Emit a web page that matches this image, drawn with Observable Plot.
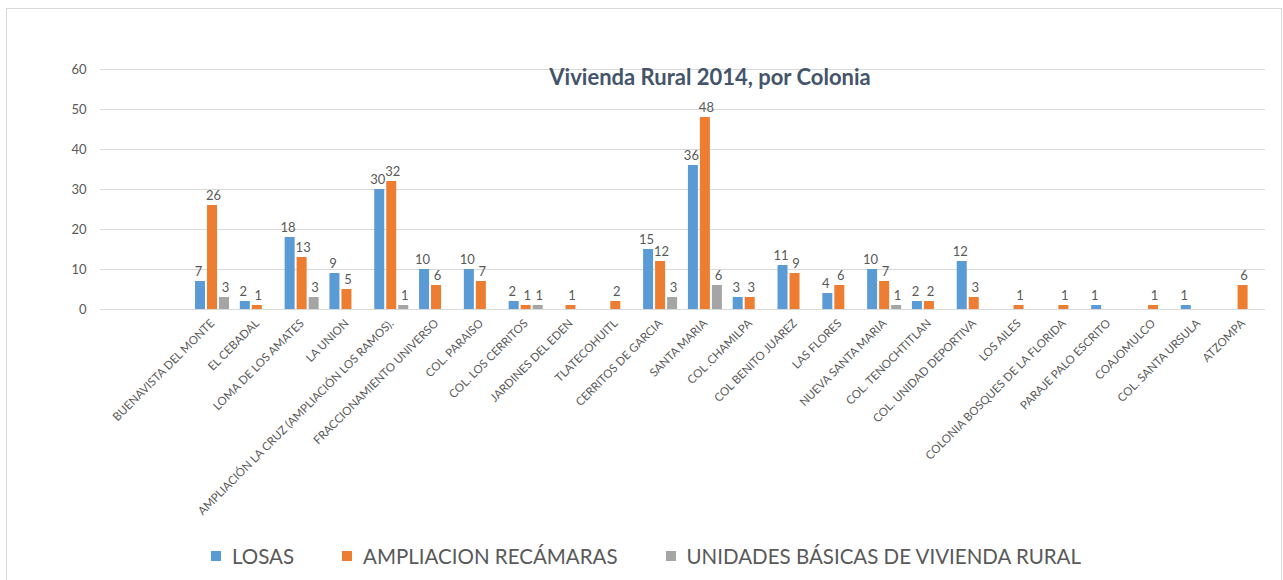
<!DOCTYPE html>
<html><head><meta charset="utf-8">
<script src="https://cdn.jsdelivr.net/npm/d3@7"></script>
<script src="https://cdn.jsdelivr.net/npm/@observablehq/plot@0.6"></script>
<style>
html,body{margin:0;padding:0;background:#fff;overflow:hidden;}
#wrap{position:relative;width:1283px;height:580px;font-family:Lato,"Open Sans",sans-serif;}
#frame{position:absolute;left:6px;top:8px;width:1276px;height:580px;border:1px solid #d9d9d9;box-sizing:border-box;}
#chart{position:absolute;left:0;top:0;}
#title{position:absolute;left:410px;width:600px;top:63px;text-align:center;font-weight:bold;font-size:22px;color:#44546A;}
#legend{position:absolute;left:211px;top:543px;display:flex;gap:48px;font-size:20.5px;color:#595959;line-height:26px;}
#legend .item{display:flex;align-items:center;}
#legend .sw{width:10px;height:10px;margin-right:11px;}
</style></head>
<body><div id="wrap"><div id="frame"></div><div id="chart"></div><div id="title"></div><div id="legend"></div></div>
<script>
const titleText = "Vivienda Rural 2014, por Colonia";
const categories = ["BUENAVISTA DEL MONTE","EL CEBADAL","LOMA DE LOS AMATES","LA UNION","AMPLIACIÓN LA CRUZ (AMPLIACIÓN LOS RAMOS).","FRACCIONAMIENTO UNIVERSO","COL. PARAISO","COL. LOS CERRITOS","JARDINES DEL EDEN","TLATECOHUITL","CERRITOS DE GARCIA","SANTA MARIA","COL .CHAMILPA","COL BENITO JUAREZ","LAS FLORES","NUEVA SANTA MARIA","COL. TENOCHTITLAN","COL. UNIDAD DEPORTIVA","LOS AILES","COLONIA BOSQUES DE LA FLORIDA","PARAJE PALO ESCRITO","COAJOMULCO","COL. SANTA URSULA","ATZOMPA"];
const blankCategories = ["_blank1","_blank2"];
const series = ["LOSAS","AMPLIACION RECÁMARAS","UNIDADES BÁSICAS DE VIVIENDA RURAL"];
const colors = ["#5B9BD5","#ED7D31","#A5A5A5"];
const losas =      [7,2,18,9,30,10,10,2,0,0,15,36,3,11,4,10,2,12,0,0,1,0,1,0];
const ampliacion = [26,1,13,5,32,6,7,1,1,2,12,48,3,9,6,7,2,3,1,1,0,1,0,6];
const unidades =   [3,0,3,0,1,0,0,1,0,0,3,6,0,0,0,1,0,0,0,0,0,0,0,0];
const yTicks = [0,10,20,30,40,50,60];

const valuesBySeries = [losas, ampliacion, unidades];
const rows = [];
categories.forEach((c,i)=>series.forEach((s,j)=>rows.push({cat:c, series:s, value:valuesBySeries[j][i]})));
const fxDomain = [...blankCategories, ...categories];
const shown = rows.filter(d=>d.value>0);
const gridRows = fxDomain.flatMap(c=>yTicks.map(t=>({cat:c, tick:t})));
const labelDx = [-2, 1, 1];

const chart = Plot.plot({
  width:1283, height:530,
  marginLeft:100, marginRight:18, marginTop:69, marginBottom:221,
  style:{fontFamily:"Lato, 'Open Sans', sans-serif", background:"transparent", color:"#595959"},
  fx:{domain:fxDomain, padding:0, round:false, label:null},
  x:{domain:series, paddingInner:0.167, paddingOuter:0.45, round:false, axis:null},
  y:{domain:[0,60]},
  color:{domain:series, range:colors},
  marks:[
    Plot.ruleY(gridRows,{fx:"cat", y:"tick", stroke:"#d9d9d9", strokeWidth:1}),
    Plot.axisY(yTicks,{tickSize:0, tickPadding:14, fontSize:13, fill:"#595959", label:null}),
    Plot.axisFx({anchor:"bottom", tickRotate:-45, tickSize:0, tickPadding:12, fontSize:11.5, fill:"#595959", label:null,
      tickFormat:d=>blankCategories.includes(d)?"":d}),
    Plot.barY(shown,{fx:"cat", x:"series", y:"value", fill:"series", insetLeft:0, insetRight:0}),
    ...series.map((s,j)=>Plot.text(shown.filter(d=>d.series===s),{fx:"cat", x:"series", y:"value", text:d=>String(d.value), lineAnchor:"bottom", dy:-6, dx:labelDx[j], fill:"#595959", fontSize:13}))
  ]
});
document.getElementById("chart").appendChild(chart);
document.getElementById("title").textContent = titleText;
const legend = document.getElementById("legend");
series.forEach((s,i)=>{
  const it=document.createElement("div"); it.className="item";
  const sw=document.createElement("span"); sw.className="sw"; sw.style.background=colors[i];
  const tx=document.createElement("span"); tx.textContent=s;
  it.appendChild(sw); it.appendChild(tx); legend.appendChild(it);
});
</script></body></html>
